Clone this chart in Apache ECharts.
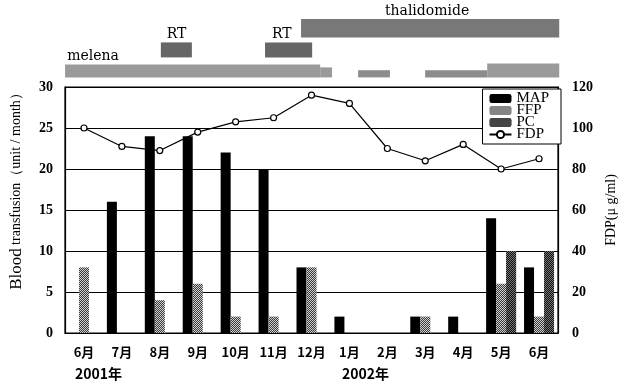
<!DOCTYPE html>
<html>
<head>
<meta charset="utf-8">
<script src="https://cdn.jsdelivr.net/npm/echarts@6/dist/echarts.min.js"></script>
<style>
html, body { margin: 0; padding: 0; background: #fff; }
#chart { width: 626px; height: 385px; }
</style>
</head>
<body>
<div id="chart"></div>
<script>
// monthly values, Jun 2001 .. Jun 2002
const months = ['6月', '7月', '8月', '9月', '10月', '11月', '12月', '1月', '2月', '3月', '4月', '5月', '6月']
const mapData = [0, 16, 24, 24, 22, 20, 8, 2, 0, 2, 2, 14, 8]
const ffpData = [8, 0, 4, 6, 2, 2, 8, 0, 0, 2, 0, 6, 2]
const pcData = [0, 0, 0, 0, 0, 0, 0, 0, 0, 0, 0, 10, 10]
const fdpData = [100, 91, 89, 98, 103, 105, 116, 112, 90, 84, 92, 80, 85]

// clinical course above the chart, in month units (0 = start of Jun 2001)
const courseRows = ['melena', 'RT', 'thalidomide']
// [start, end, row, thickness]
const courseSpans = [
  [0.08, 6.74, 0, 0.65],
  [6.74, 7.05, 0, 0.5],
  [7.73, 8.56, 0, 0.36],
  [9.48, 11.1, 0, 0.36],
  [11.1, 12.98, 0, 0.7],
  [2.58, 3.39, 1, 0.75],
  [5.3, 6.53, 1, 0.75],
  [6.24, 12.98, 2, 0.92]
]
// [x, row, text]
const courseLabels = [
  [0.81, 0, 'melena'],
  [2.99, 1, 'RT'],
  [5.74, 1, 'RT'],
  [9.53, 2, 'thalidomide']
]
const years = ['2001年', '2002年']

const rowFill = ['#9a9a9a', '#666666', '#787878']
const serif = '"Liberation Serif", serif'

function renderSpan (params, api) {
  const row = api.value(2)
  const a = api.coord([api.value(0), row])
  const b = api.coord([api.value(1), row])
  const band = api.size([0, 1])[1]
  const h = band * api.value(3)
  const bottom = a[1] + band * 0.47
  return {
    type: 'rect',
    shape: { x: a[0], y: bottom - h, width: b[0] - a[0], height: h },
    style: { fill: api.value(3) < 0.5 && row === 0 ? '#8c8c8c' : rowFill[row] }
  }
}

function renderLabel (params, api) {
  const row = api.value(1)
  const p = api.coord([api.value(0), row])
  const band = api.size([0, 1])[1]
  // sit the text just above the first bar of its row
  const first = courseSpans.find(s => s[2] === row)
  const top = p[1] + band * 0.47 - band * first[3]
  return {
    type: 'text',
    x: p[0],
    y: top - 8,
    style: {
      text: courseLabels[params.dataIndex][2],
      font: '14px "DejaVu Serif"',
      fill: '#000',
      align: 'center',
      verticalAlign: 'middle'
    }
  }
}

const chart = echarts.init(document.getElementById('chart'))
chart.setOption({
  animation: false,
  backgroundColor: '#fff',
  grid: [
    { left: 62, right: 66, top: 87, bottom: 52, show: true, borderColor: '#000', borderWidth: 1.2, backgroundColor: 'transparent' },
    { left: 62, right: 66, top: 18, height: 60, show: false }
  ],
  legend: {
    orient: 'vertical',
    right: 65,
    top: 89,
    data: ['MAP', 'FFP', 'PC', 'FDP'],
    itemWidth: 22,
    itemHeight: 9,
    itemGap: -3,
    padding: [2, 12, 2, 6],
    backgroundColor: '#fff',
    borderColor: '#000',
    borderWidth: 1,
    borderRadius: 0,
    textStyle: { fontFamily: serif, fontSize: 15, color: '#000' }
  },
  xAxis: [
    {
      type: 'category',
      data: months,
      gridIndex: 0,
      axisLine: { lineStyle: { color: '#000', width: 1.2 } },
      axisTick: { inside: true, length: 4, interval: 0, lineStyle: { color: '#000' } },
      axisLabel: { interval: 0, margin: 13, color: '#000', fontFamily: 'Noto Sans CJK JP', fontWeight: 'bold', fontSize: 13 }
    },
    { type: 'value', gridIndex: 1, min: 0, max: 13, show: false }
  ],
  yAxis: [
    {
      type: 'value',
      gridIndex: 0,
      min: 0,
      max: 30,
      interval: 5,
      name: '{a|Blood} {b|transfusion（unit / month）}',
      nameLocation: 'middle',
      nameRotate: 90,
      nameGap: 40,
      nameTextStyle: {
        padding: [0, 0, 0, 44],
        rich: {
          a: { fontFamily: serif, fontSize: 17, color: '#000' },
          b: { fontFamily: serif, fontSize: 14, color: '#000' }
        }
      },
      axisLine: { show: true, lineStyle: { color: '#000', width: 1.2 } },
      axisTick: { show: false },
      axisLabel: { margin: 12, color: '#000', fontFamily: serif, fontWeight: 'bold', fontSize: 14 },
      splitLine: { lineStyle: { color: '#000', width: 1.2 } }
    },
    {
      type: 'value',
      gridIndex: 0,
      position: 'right',
      min: 0,
      max: 120,
      interval: 20,
      name: 'FDP(μ g/ml)',
      nameLocation: 'middle',
      nameRotate: 90,
      nameGap: 46,
      nameTextStyle: { fontFamily: serif, fontSize: 14, color: '#000' },
      axisLine: { show: true, lineStyle: { color: '#000', width: 1.2 } },
      axisTick: { show: false },
      axisLabel: { margin: 14, color: '#000', fontFamily: serif, fontWeight: 'bold', fontSize: 14 },
      splitLine: { show: false }
    },
    { type: 'category', gridIndex: 1, data: courseRows, show: false }
  ],
  graphic: [
    { type: 'text', left: 75, top: 367, style: { text: years[0], font: 'bold 14px "Noto Sans CJK JP"', fill: '#000' } },
    { type: 'text', left: 342, top: 367, style: { text: years[1], font: 'bold 14px "Noto Sans CJK JP"', fill: '#000' } }
  ],
  series: [
    {
      name: 'MAP',
      type: 'bar',
      data: mapData,
      barWidth: 10,
      barGap: '0%',
      itemStyle: { color: '#000' }
    },
    {
      name: 'FFP',
      type: 'bar',
      data: ffpData,
      barWidth: 10,
      barGap: '0%',
      itemStyle: {
        color: '#d0d0d0',
        decal: { symbol: 'rect', symbolSize: 1, color: '#3a3a3a', dashArrayX: [[1, 1], [0, 1, 1, 0]], dashArrayY: [1, 0] }
      }
    },
    {
      name: 'PC',
      type: 'bar',
      data: pcData,
      barWidth: 10,
      barGap: '0%',
      itemStyle: {
        color: '#777',
        decal: { symbol: 'rect', symbolSize: 1, color: '#111', dashArrayX: [[1, 1], [0, 1, 1, 0]], dashArrayY: [1, 0] }
      }
    },
    {
      name: 'FDP',
      type: 'line',
      yAxisIndex: 1,
      data: fdpData,
      symbol: 'circle',
      symbolSize: 6,
      z: 5,
      lineStyle: { color: '#000', width: 1.2 },
      itemStyle: { color: '#fff', borderColor: '#000', borderWidth: 1.2 }
    },
    {
      name: 'course',
      type: 'custom',
      xAxisIndex: 1,
      yAxisIndex: 2,
      data: courseSpans,
      encode: { x: [0, 1], y: 2 },
      renderItem: renderSpan,
      silent: true
    },
    {
      name: 'course labels',
      type: 'custom',
      xAxisIndex: 1,
      yAxisIndex: 2,
      data: courseLabels.map(d => [d[0], d[1]]),
      encode: { x: 0, y: 1 },
      renderItem: renderLabel,
      silent: true
    }
  ]
})
</script>
</body>
</html>
